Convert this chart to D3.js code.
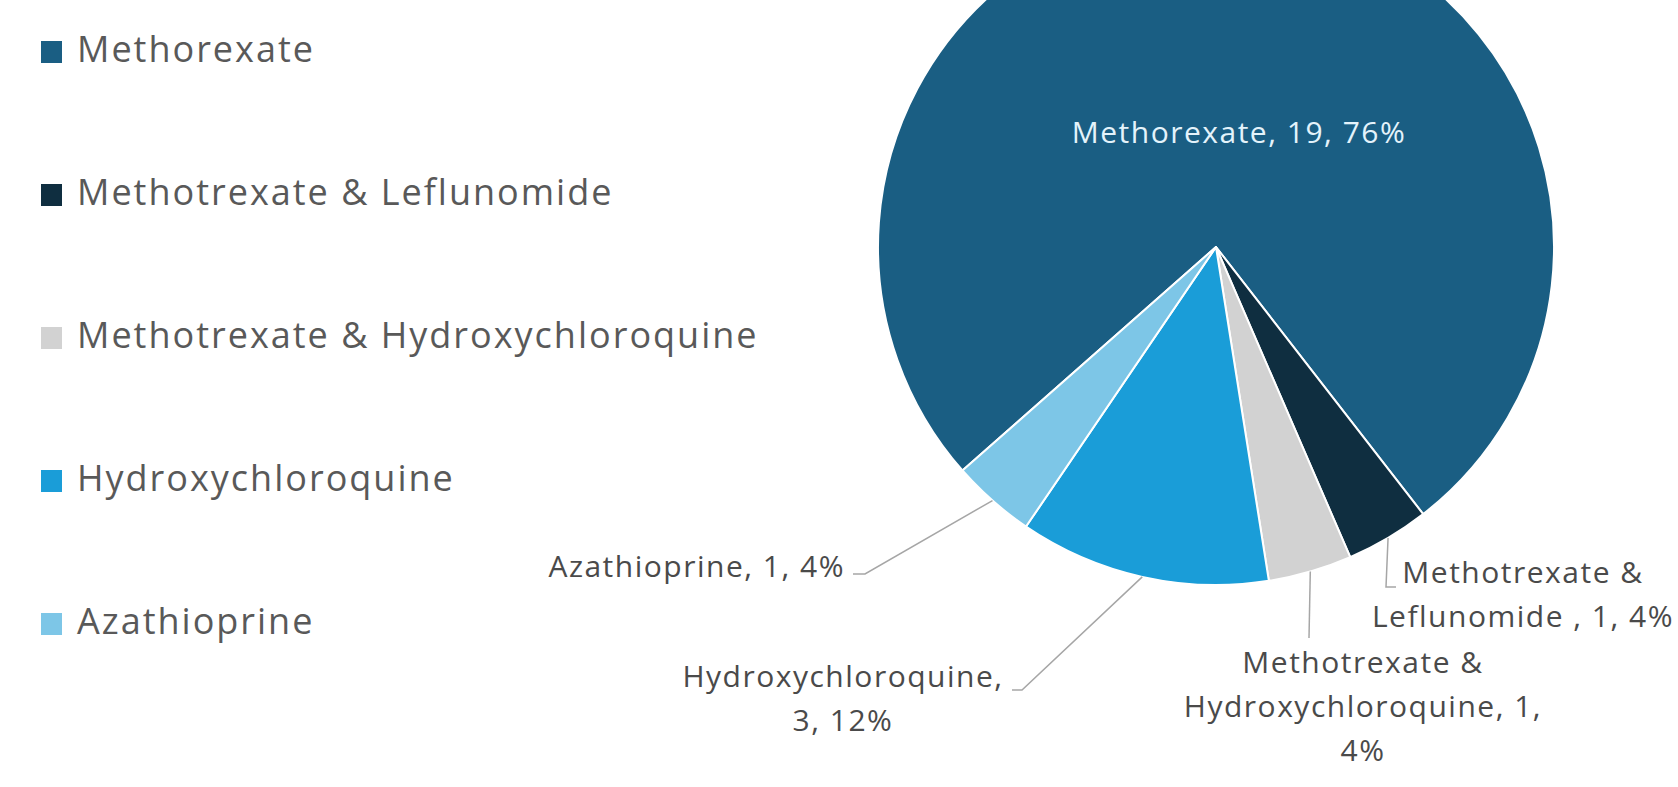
<!DOCTYPE html>
<html>
<head>
<meta charset="utf-8">
<script src="https://cdn.jsdelivr.net/npm/d3@7"></script>
<style>
  body { margin: 0; background: #fff; }
  svg { display: block; font-family: "Open Sans", sans-serif; }
</style>
</head>
<body>
<div id="chart"></div>
<script>
// data
const categories = ["Methorexate", "Methotrexate & Leflunomide ", "Methotrexate & Hydroxychloroquine", "Hydroxychloroquine", "Azathioprine"];
const counts = [19, 1, 1, 3, 1];
const colors = ["#1a5e83", "#0f2e40", "#d2d2d2", "#1a9dd8", "#7dc6e7"];

// how each data label is placed (Excel-style leader lines)
const labelLayout = [
    { x: 1239, y: 143, anchor: "middle", lines: [3], fill: "#e4f3fb", leader: null },
    { x: 1523, y: 583, anchor: "middle", lines: [2, 4], leader: [[1396, 587], [1386, 587]] },
    { x: 1363, y: 673, anchor: "middle", lines: [2, 2, 1], leader: [[1309, 638]] },
    { x: 843, y: 687, anchor: "middle", lines: [1, 2], leader: [[1012, 690], [1022, 690]] },
    { x: 845, y: 577, anchor: "end", lines: [3], leader: [[853, 574], [865, 574]] }
];

const width = 1678, height = 787;
const cx = 1216, cy = 247, radius = 338;
const lineGap = 44;

const svg = d3.select("#chart")
    .append("svg")
    .attr("width", width)
    .attr("height", height);

const total = d3.sum(counts);
const data = categories.map((c, i) => ({ name: c, value: counts[i], color: colors[i], layout: labelLayout[i] }));

// first slice angle ~228.6 degrees
const pie = d3.pie()
    .value(d => d.value)
    .sort(null)
    .startAngle(-131.4 * Math.PI / 180)
    .endAngle((360 - 131.4) * Math.PI / 180);

const arc = d3.arc().innerRadius(0).outerRadius(radius);
const edgeArc = d3.arc().innerRadius(radius).outerRadius(radius);

const arcs = pie(data);

const g = svg.append("g")
    .attr("transform", `translate(${cx}, ${cy})`);

g.selectAll("path.slice")
    .data(arcs)
    .enter()
    .append("path")
    .attr("class", "slice")
    .attr("d", arc)
    .attr("fill", d => d.data.color)
    .attr("stroke", "#fff")
    .attr("stroke-width", 2)
    .attr("stroke-linejoin", "round");

// leader lines
const line = d3.line();
arcs.forEach(d => {
    const lay = d.data.layout;
    if (!lay.leader) return;
    const edge = edgeArc.centroid(d);
    const pts = lay.leader.map(p => [p[0], p[1]]);
    pts.push([edge[0] + cx, edge[1] + cy]);
    svg.append("path")
        .attr("d", line(pts))
        .attr("fill", "none")
        .attr("stroke", "#a6a6a6")
        .attr("stroke-width", 1.5);
});

// data labels
arcs.forEach(d => {
    const lay = d.data.layout;
    const pct = Math.round(d.data.value / total * 100);
    const words = `${d.data.name}, ${d.data.value}, ${pct}%`.split(" ");
    const lines = [];
    let k = 0;
    lay.lines.forEach(n => {
        lines.push(words.slice(k, k + n).join(" "));
        k += n;
    });
    const t = svg.append("text")
        .attr("text-anchor", lay.anchor)
        .attr("font-size", 30)
        .attr("letter-spacing", "1.5px")
        .attr("fill", lay.fill || "#4a4a4a");
    lines.forEach((s, i) => {
        t.append("tspan")
            .attr("x", lay.x)
            .attr("y", lay.y + i * lineGap)
            .text(s);
    });
});

// legend
const legend = svg.append("g")
    .selectAll("g")
    .data(data)
    .enter()
    .append("g")
    .attr("transform", (d, i) => `translate(0, ${52 + i * 143})`);

legend.append("rect")
    .attr("x", 41)
    .attr("y", -11)
    .attr("width", 21)
    .attr("height", 22)
    .attr("fill", d => d.color);

legend.append("text")
    .attr("x", 77)
    .attr("y", 10)
    .attr("font-size", 36)
    .attr("letter-spacing", "2px")
    .attr("fill", "#595959")
    .text(d => d.name.trim());
</script>
</body>
</html>
